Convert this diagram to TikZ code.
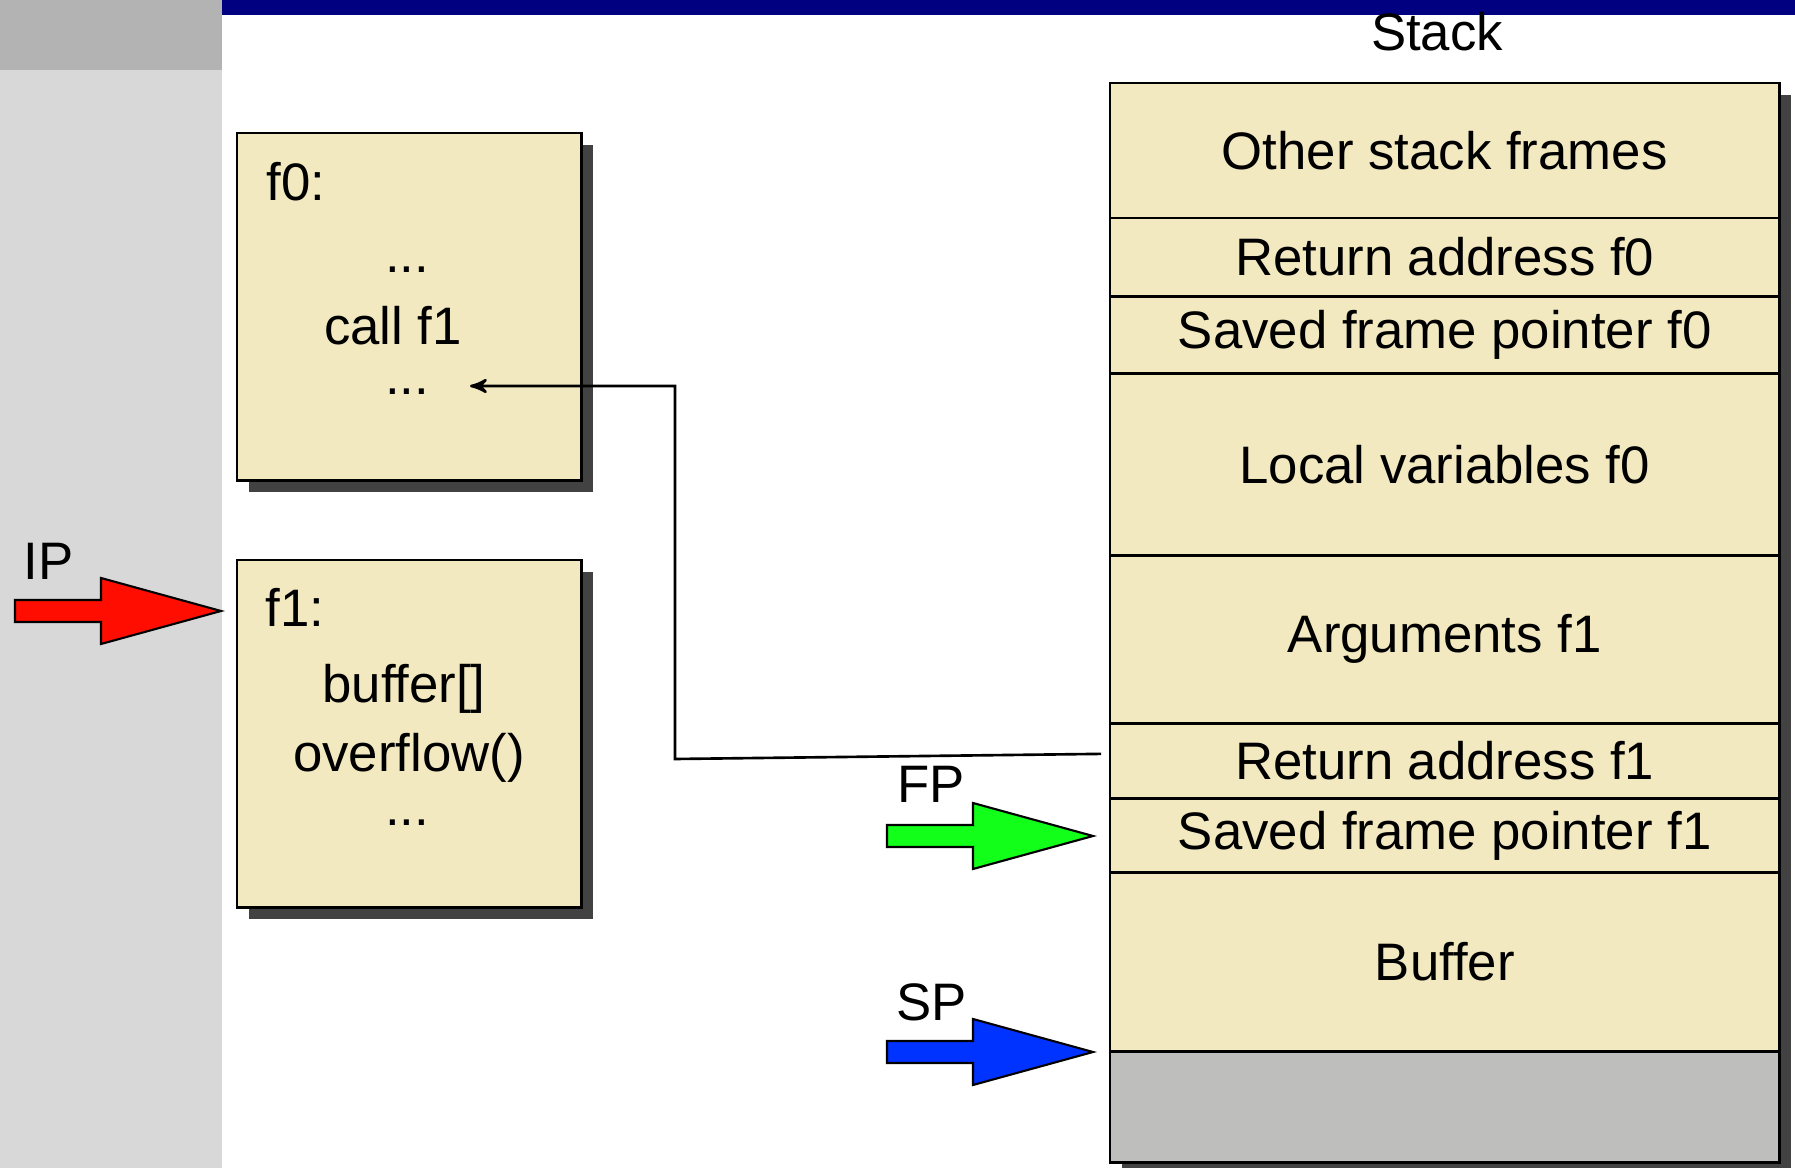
\documentclass[tikz,border=0pt]{standalone}
\usepackage{fontspec}
\setmainfont{Liberation Sans}
\usetikzlibrary{positioning, arrows, shadows}
\definecolor{cream}{HTML}{F2E9C1}
\definecolor{shadowgray}{HTML}{424242}
\definecolor{emptygray}{HTML}{BEBEBD}
\definecolor{panellight}{HTML}{D8D8D8}
\definecolor{paneldark}{HTML}{B3B3B3}
\definecolor{barblue}{HTML}{000080}
\definecolor{ipred}{HTML}{FF0D00}
\definecolor{fpgreen}{HTML}{12FF1A}
\definecolor{spblue}{HTML}{0033FF}

\begin{document}
\begin{tikzpicture}[x=0.01cm, y=-0.01cm, >=stealth', node distance=0pt, inner sep=0pt, font=\fontsize{15}{18}\selectfont,
	frame/.style={draw, fill=cream, line width=0.8pt, minimum width=6.69cm, outer sep=0pt,
		drop shadow={shadow xshift=0.12cm, shadow yshift=-0.12cm, fill=shadowgray, opacity=1}},
	codebox/.style={frame, minimum width=3.44cm, minimum height=3.47cm},
	ptrarrow/.style={draw, line width=0.6pt},
	ptr/.pic={\path[pic actions] (0,0) -- (-120,-33) -- (-120,-11) -- (-206,-11) -- (-206,11) -- (-120,11) -- (-120,33) -- cycle;}]
		
		\useasboundingbox (0,0) rectangle (1795,1168);
		\fill[panellight] (0,0) rectangle (222,1168);
		\fill[paneldark] (0,0) rectangle (222,70);
		\fill[barblue] (222,0) rectangle (1795,15);
		
		\node[codebox, anchor=north west] (f0box) at (237,133) {};
		\node[anchor=base west] (f0name) at (266,201) {f0:};
		\node[anchor=base] (f0pre) at (407,273) {...};
		\node[anchor=base] (f0call) at (393,345) {call f1};
		\node[anchor=base] (f0post) at (407,395) {...};
		
		\node[codebox, anchor=north west] (f1box) at (237,560) {};
		\node[anchor=base west] (f1name) at (265,627) {f1:};
		\node[anchor=base] (f1buf) at (404,703) {buffer[]};
		\node[anchor=base] (f1ovf) at (409,772) {overflow()};
		\node[anchor=base] (f1post) at (407,825) {...};
		
		\node[anchor=base] (stacklbl) at (1437,51) {Stack};
		\node[frame, minimum height=1.35cm, anchor=north west] (others) at (1110,83) {Other stack frames};
		\node[frame, minimum height=0.78cm, below=of others] (raf0) {Return address f0};
		\node[frame, minimum height=0.77cm, below=of raf0] (sfp0) {Saved frame pointer f0};
		\node[frame, minimum height=1.82cm, below=of sfp0] (loc0) {Local variables f0};
		\node[frame, minimum height=1.68cm, below=of loc0] (args1) {Arguments f1};
		\node[frame, minimum height=0.75cm, below=of args1] (raf1) {Return address f1};
		\node[frame, minimum height=0.74cm, below=of raf1] (sfp1) {Saved frame pointer f1};
		\node[frame, minimum height=1.79cm, below=of sfp1] (buf) {Buffer};
		\node[frame, fill=emptygray, minimum height=1.11cm, below=of buf] (free) {};
		
		\coordinate (iptip) at (221,611);
		\coordinate (fptip) at (1093,836);
		\coordinate (sptip) at (1093,1052);
		\pic[ptrarrow, fill=ipred] at (iptip) {ptr};
		\pic[ptrarrow, fill=fpgreen] at (fptip) {ptr};
		\pic[ptrarrow, fill=spblue] at (sptip) {ptr};
		\node[anchor=base west] (iplbl) at (23,580) {IP};
		\node[anchor=base west] (fplbl) at (897,803) {FP};
		\node[anchor=base west] (splbl) at (896,1020) {SP};
		
		\coordinate (bend) at (675,759);
		\coordinate (f0back) at (470,386);
		\draw[->, line width=0.75pt] ([shift={(-0.09cm,0.07cm)}]raf1.west) -- (bend) |- (f0back);
		
\end{tikzpicture}
\end{document}
